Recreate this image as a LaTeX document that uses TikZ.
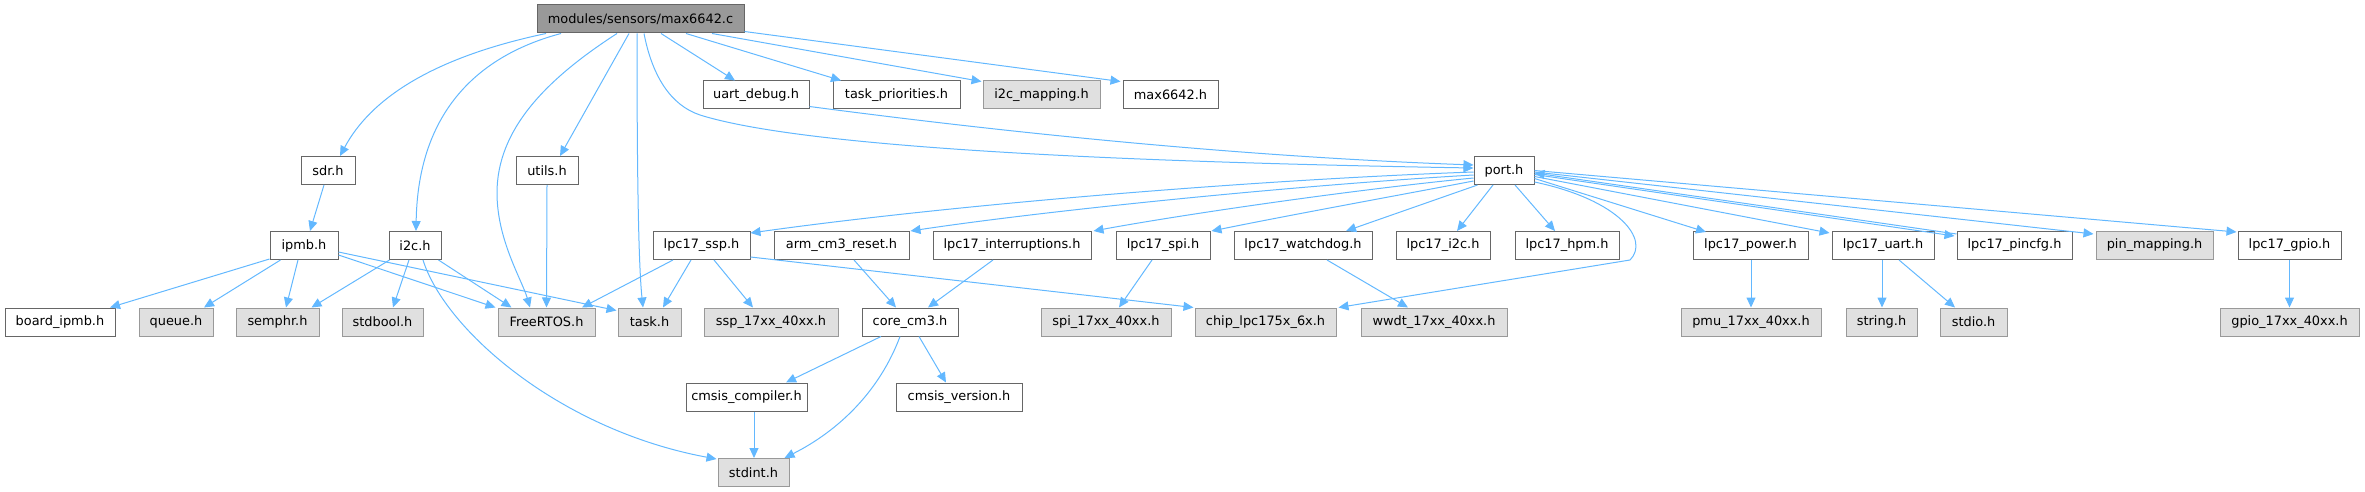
\documentclass[tikz,border=0pt]{standalone}
\usepackage{fontspec}
\setmainfont{DejaVu Sans}
\usetikzlibrary{arrows.meta}
\definecolor{edgec}{HTML}{63B8FF}
\definecolor{wb}{HTML}{666666}
\definecolor{gb}{HTML}{999999}
\definecolor{gf}{HTML}{E0E0E0}
\definecolor{mf}{HTML}{999999}
\begin{document}
\begin{tikzpicture}[x=1pt,y=-1pt,
 box/.style={draw=wb, fill=white, line width=1pt, minimum height=28pt, inner sep=0pt, font=\fontsize{12.9}{15}\selectfont},
 gbox/.style={box, draw=gb, fill=gf},
 mbox/.style={box, draw=wb, fill=mf},
 dep/.style={draw=edgec, line width=1pt, -{Triangle[length=10pt,width=9pt]}}]
\useasboundingbox (0,0) rectangle (2365,492);
% row 0
\node[mbox, minimum width=207] (main) at (640.5,19) {modules/sensors/max6642.c};
% row 1
\node[box, minimum width=106] (uart_debug) at (756,95) {uart\_debug.h};
\node[box, minimum width=127] (task_priorities) at (896.5,95) {task\_priorities.h};
\node[gbox, minimum width=117] (i2c_mapping) at (1041.5,95) {i2c\_mapping.h};
\node[box, minimum width=95] (max6642) at (1170.5,95) {max6642.h};
% row 2
\node[box, minimum width=54] (sdr) at (328,170.5) {sdr.h};
\node[box, minimum width=62] (utils) at (547,170.5) {utils.h};
\node[box, minimum width=60] (port) at (1504,170.5) {port.h};
% row 3
\node[box, minimum width=68] (ipmb) at (304,245.5) {ipmb.h};
\node[box, minimum width=52] (i2c) at (415,245.5) {i2c.h};
\node[box, minimum width=97] (lpc17_ssp) at (701.5,245.5) {lpc17\_ssp.h};
\node[box, minimum width=135] (arm_cm3_reset) at (841.5,245.5) {arm\_cm3\_reset.h};
\node[box, minimum width=158] (lpc17_interruptions) at (1012,245.5) {lpc17\_interruptions.h};
\node[box, minimum width=94] (lpc17_spi) at (1163,245.5) {lpc17\_spi.h};
\node[box, minimum width=138] (lpc17_watchdog) at (1303,245.5) {lpc17\_watchdog.h};
\node[box, minimum width=94] (lpc17_i2c) at (1443,245.5) {lpc17\_i2c.h};
\node[box, minimum width=104] (lpc17_hpm) at (1567,245.5) {lpc17\_hpm.h};
\node[box, minimum width=115] (lpc17_power) at (1750.5,245.5) {lpc17\_power.h};
\node[box, minimum width=102] (lpc17_uart) at (1883,245.5) {lpc17\_uart.h};
\node[box, minimum width=115] (lpc17_pincfg) at (2014.5,245.5) {lpc17\_pincfg.h};
\node[gbox, minimum width=117] (pin_mapping) at (2154.5,245.5) {pin\_mapping.h};
\node[box, minimum width=103] (lpc17_gpio) at (2289.5,245.5) {lpc17\_gpio.h};
% row 4
\node[box, minimum width=110] (board_ipmb) at (60,322) {board\_ipmb.h};
\node[gbox, minimum width=74] (queue) at (176,322) {queue.h};
\node[gbox, minimum width=83] (semphr) at (277.5,322) {semphr.h};
\node[gbox, minimum width=81] (stdbool) at (382.5,322) {stdbool.h};
\node[gbox, minimum width=97] (FreeRTOS) at (546.5,322) {FreeRTOS.h};
\node[gbox, minimum width=63] (task) at (649.5,322) {task.h};
\node[gbox, minimum width=134] (ssp_17xx) at (771,322) {ssp\_17xx\_40xx.h};
\node[box, minimum width=96] (core_cm3) at (910,322) {core\_cm3.h};
\node[gbox, minimum width=130] (spi_17xx) at (1106,322) {spi\_17xx\_40xx.h};
\node[gbox, minimum width=141] (chip) at (1265.5,322) {chip\_lpc175x\_6x.h};
\node[gbox, minimum width=146] (wwdt) at (1434,322) {wwdt\_17xx\_40xx.h};
\node[gbox, minimum width=140] (pmu) at (1751,322) {pmu\_17xx\_40xx.h};
\node[gbox, minimum width=71] (string) at (1881.5,322) {string.h};
\node[gbox, minimum width=67] (stdio) at (1973.5,322) {stdio.h};
\node[gbox, minimum width=139] (gpio_17xx) at (2289.5,322) {gpio\_17xx\_40xx.h};
% row 5
\node[box, minimum width=121] (cmsis_compiler) at (746.5,397) {cmsis\_compiler.h};
\node[box, minimum width=126] (cmsis_version) at (959,397) {cmsis\_version.h};
% row 6
\node[gbox, minimum width=71] (stdint) at (753.5,472.5) {stdint.h};

% edges from main
\draw[dep] ([xshift=-94.5pt]main.south) .. controls (430,58) and (370,100) .. ([xshift=12pt]sdr.north);
\draw[dep] ([xshift=-79.5pt]main.south) .. controls (480,55) and (418,110) .. ([xshift=1pt]i2c.north);
\draw[dep] ([xshift=-23.5pt]main.south) .. controls (545,80) and (497,130) .. (497,193) .. controls (497,240) and (522,280) .. ([xshift=-16.5pt]FreeRTOS.north);
\draw[dep] ([xshift=-11.5pt]main.south) -- ([xshift=13pt]utils.north);
\draw[dep] ([xshift=-3.5pt]main.south) .. controls (637,150) and (638,260) .. ([xshift=-6.5pt]task.north);
\draw[dep] ([xshift=3.5pt]main.south) .. controls (652,75) and (670,105) .. (700,115) .. controls (780,140) and (1000,160) .. ([yshift=2.5pt]port.west);
\draw[dep] ([xshift=20.5pt]main.south) -- ([xshift=-21pt]uart_debug.north);
\draw[dep] ([xshift=45.5pt]main.south) -- ([xshift=-55.5pt]task_priorities.north);
\draw[dep] ([xshift=71.5pt]main.south) -- ([xshift=-1pt,yshift=-1pt]i2c_mapping.north west);
\draw[dep] ([yshift=2pt]main.south east) -- ([xshift=-2pt,yshift=-1pt]max6642.north west);
% uart_debug, sdr, utils
\draw[dep] ([yshift=3pt]uart_debug.south east) .. controls (950,125) and (1200,155) .. ([yshift=5.5pt]port.west);
\draw[dep] ([xshift=-4pt]sdr.south) -- ([xshift=6pt]ipmb.north);
\draw[dep] (utils.south) -- (FreeRTOS.north);
% ipmb
\draw[dep] ([yshift=1pt]ipmb.south west) -- ([xshift=50pt]board_ipmb.north);
\draw[dep] ([xshift=11pt]ipmb.south west) -- ([xshift=28pt]queue.north);
\draw[dep] ([xshift=-6pt]ipmb.south) -- ([xshift=8.5pt]semphr.north);
\draw[dep] ([yshift=5pt]ipmb.south east) -- ([xshift=-2pt]FreeRTOS.north west);
\draw[dep] ([yshift=8pt]ipmb.south east) -- ([xshift=-1pt,yshift=-3pt]task.north west);
% i2c
\draw[dep] ([xshift=1pt]i2c.south west) -- ([xshift=-8pt]semphr.north east);
\draw[dep] ([xshift=-6pt]i2c.south) -- ([xshift=10.5pt]stdbool.north);
\draw[dep] ([xshift=-3pt]i2c.south east) -- ([xshift=14pt]FreeRTOS.north west);
\draw[dep] ([xshift=8pt]i2c.south) .. controls (445,330) and (560,430) .. ([xshift=-1pt,yshift=-1pt]stdint.north west);
% lpc17_ssp
\draw[dep] ([xshift=-28.5pt]lpc17_ssp.south) -- ([xshift=35.5pt]FreeRTOS.north);
\draw[dep] ([xshift=-10.5pt]lpc17_ssp.south) -- ([xshift=13.5pt]task.north);
\draw[dep] ([xshift=12.5pt]lpc17_ssp.south) -- ([xshift=-18pt]ssp_17xx.north);
\draw[dep] ([yshift=3pt]lpc17_ssp.south east) -- ([xshift=-1pt]chip.north west);
% port, left side
\draw[dep] ([yshift=-1.5pt]port.west) .. controls (1250,180) and (950,205) .. ([yshift=-2pt]lpc17_ssp.north east);
\draw[dep] ([yshift=-4.5pt]port.west) .. controls (1300,185) and (1050,210) .. ([xshift=1pt]arm_cm3_reset.north east);
\draw[dep] ([yshift=-7.5pt]port.west) .. controls (1350,190) and (1180,215) .. ([xshift=2pt]lpc17_interruptions.north east);
\draw[dep] ([yshift=-10.5pt]port.west) .. controls (1400,195) and (1290,215) .. ([xshift=1pt]lpc17_spi.north east);
\draw[dep] ([xshift=4pt]port.south west) -- ([xshift=43pt]lpc17_watchdog.north);
\draw[dep] ([xshift=-11pt]port.south) -- ([xshift=14pt]lpc17_i2c.north);
\draw[dep] ([xshift=11pt]port.south) -- ([xshift=-12pt]lpc17_hpm.north);
% port, right side
\draw[dep] ([yshift=-8pt]port.east) -- ([xshift=-44.5pt,yshift=-1pt]lpc17_power.north);
\draw[dep] ([yshift=-6pt]port.east) -- ([xshift=-2pt,yshift=-2pt]lpc17_uart.north west);
\draw[dep] ([yshift=-4pt]port.east) -- ([xshift=-2pt,yshift=-5pt]lpc17_pincfg.north west);
\draw[dep] ([yshift=-3pt]lpc17_pincfg.north west) -- ([yshift=-2.5pt]port.east);
\draw[dep] ([yshift=-1.5pt]port.east) -- ([xshift=-2pt,yshift=-3pt]pin_mapping.north west);
\draw[dep] (port.east) -- ([xshift=-1pt,yshift=-1pt]lpc17_gpio.north west);
\draw[dep] ([yshift=-11.5pt]port.east) .. controls (1620,200) and (1650,240) .. (1630,260) -- ([xshift=2pt]chip.north east);
% lower
\draw[dep] ([xshift=12.5pt]arm_cm3_reset.south) -- ([xshift=-14pt]core_cm3.north);
\draw[dep] ([xshift=-19pt]lpc17_interruptions.south) -- ([xshift=18pt]core_cm3.north);
\draw[dep] ([xshift=-11pt]lpc17_spi.south) -- ([xshift=13pt]spi_17xx.north);
\draw[dep] ([xshift=24pt]lpc17_watchdog.south) -- ([xshift=-26pt]wwdt.north);
\draw[dep] ([xshift=-29pt]core_cm3.south) -- ([xshift=39.5pt]cmsis_compiler.north);
\draw[dep] ([xshift=9pt]core_cm3.south) -- ([xshift=-13pt]cmsis_version.north);
\draw[dep] ([xshift=-10pt]core_cm3.south) .. controls (880,390) and (840,430) .. ([xshift=-5pt]stdint.north east);
\draw[dep] ([xshift=7.5pt]cmsis_compiler.south) -- ([xshift=0.5pt]stdint.north);
\draw[dep] ([xshift=0.5pt]lpc17_power.south) -- (pmu.north);
\draw[dep] ([xshift=-1pt]lpc17_uart.south) -- ([xshift=0.5pt]string.north);
\draw[dep] ([xshift=16pt]lpc17_uart.south) -- ([xshift=-18.5pt]stdio.north);
\draw[dep] (lpc17_gpio.south) -- (gpio_17xx.north);
\end{tikzpicture}
\end{document}
